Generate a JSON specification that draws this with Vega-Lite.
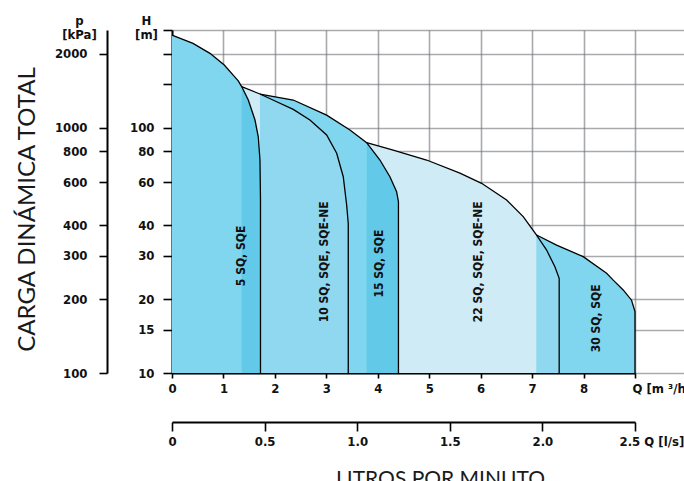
{
  "$schema": "https://vega.github.io/schema/vega-lite/v6.json",
  "width": 512,
  "height": 343,
  "autosize": {"type": "none"},
  "padding": {"left": 172, "top": 30, "right": 0, "bottom": 108},
  "background": "white",
  "title": {"text": "CARGA DINÁMICA TOTAL", "orient": "left", "anchor": "middle", "font": "Lato", "fontSize": 24, "fontWeight": "normal", "color": "#1a1a1a", "offset": 14, "dx": -8},
  "config": {
    "view": {"stroke": null},
    "axis": {
      "labelFont": "Liberation Sans Narrow, DejaVu Sans Condensed, Roboto Condensed, Roboto, sans-serif", "labelFontWeight": "bold", "labelFontSize": 13, "labelColor": "#111",
      "titleFont": "Liberation Sans Narrow, DejaVu Sans Condensed, Roboto Condensed, Roboto, sans-serif", "titleFontWeight": "bold", "titleFontSize": 13, "titleColor": "#111",
      "domainColor": "#000", "domainWidth": 2, "tickColor": "#000", "tickWidth": 1.6,
      "gridColor": "#6e7276", "gridOpacity": 0.6, "gridWidth": 1.6,
      "labelOverlap": false, "labelFlush": false, "zindex": 1
    }
  },
  "data": {"values": [
    {"s":"5","x":0,"h":238.4,"i":0},
    {"s":"5","x":0.408,"h":220.5,"i":1},
    {"s":"5","x":0.738,"h":200.8,"i":2},
    {"s":"5","x":1.016,"h":179.9,"i":3},
    {"s":"5","x":1.185,"h":164,"i":4},
    {"s":"5","x":1.288,"h":155,"i":5},
    {"s":"5","x":1.354,"h":147,"i":6},
    {"s":"5","x":1.483,"h":129.6,"i":7},
    {"s":"5","x":1.613,"h":107.4,"i":8},
    {"s":"5","x":1.677,"h":91.8,"i":9},
    {"s":"5","x":1.71,"h":73.8,"i":10},
    {"s":"5","x":1.72,"h":50.7,"i":11},
    {"s":"5","x":1.72,"h":10,"i":12},
    {"s":"10","x":1.354,"h":147,"i":0},
    {"s":"10","x":1.71,"h":137.1,"i":1},
    {"s":"10","x":2.035,"h":127.5,"i":2},
    {"s":"10","x":2.357,"h":118.7,"i":3},
    {"s":"10","x":2.681,"h":107.4,"i":4},
    {"s":"10","x":3.006,"h":93.3,"i":5},
    {"s":"10","x":3.201,"h":78.6,"i":6},
    {"s":"10","x":3.329,"h":63.1,"i":7},
    {"s":"10","x":3.395,"h":48.4,"i":8},
    {"s":"10","x":3.426,"h":40.7,"i":9},
    {"s":"10","x":3.426,"h":10,"i":10},
    {"s":"15","x":1.71,"h":137.1,"i":0},
    {"s":"15","x":2.357,"h":129.6,"i":1},
    {"s":"15","x":3.006,"h":112.5,"i":2},
    {"s":"15","x":3.459,"h":97.8,"i":3},
    {"s":"15","x":3.784,"h":86.8,"i":4},
    {"s":"15","x":4.042,"h":73.8,"i":5},
    {"s":"15","x":4.236,"h":63.1,"i":6},
    {"s":"15","x":4.366,"h":54.8,"i":7},
    {"s":"15","x":4.402,"h":49.9,"i":8},
    {"s":"15","x":4.402,"h":10,"i":9},
    {"s":"22","x":3.784,"h":86.8,"i":0},
    {"s":"22","x":4.3,"h":81.0,"i":1},
    {"s":"22","x":4.949,"h":73.8,"i":2},
    {"s":"22","x":5.597,"h":65.2,"i":3},
    {"s":"22","x":6.018,"h":59.3,"i":4},
    {"s":"22","x":6.504,"h":50.7,"i":5},
    {"s":"22","x":6.827,"h":43.4,"i":6},
    {"s":"22","x":7.087,"h":36.5,"i":7},
    {"s":"22","x":7.282,"h":31.7,"i":8},
    {"s":"22","x":7.443,"h":27.1,"i":9},
    {"s":"22","x":7.526,"h":24.3,"i":10},
    {"s":"22","x":7.526,"h":10,"i":11},
    {"s":"30","x":7.087,"h":36.5,"i":0},
    {"s":"30","x":7.476,"h":33.2,"i":1},
    {"s":"30","x":7.993,"h":29.8,"i":2},
    {"s":"30","x":8.448,"h":25.5,"i":3},
    {"s":"30","x":8.577,"h":23.9,"i":4},
    {"s":"30","x":8.77,"h":21.8,"i":5},
    {"s":"30","x":8.933,"h":19.8,"i":6},
    {"s":"30","x":9.0,"h":17.8,"i":7},
    {"s":"30","x":9.0,"h":10,"i":8}
  ]},
  "layer": [
    {
      "transform": [{"filter": "(datum.s == '10' || datum.s == '22') && datum.h > 10"}],
      "mark": {"type": "area", "color": "#cfebf6"},
      "encoding": {
        "x": {"field": "x", "type": "quantitative", "scale": {"domain": [0, 9.95], "nice": false, "zero": false}, "axis": null},
        "y": {"field": "h", "type": "quantitative", "stack": null, "scale": {"type": "log", "domain": [10, 250], "nice": false},
          "axis": {"orient": "left", "values": [10,15,20,30,40,60,80,100,150,200,250], "format": "d",
            "labelExpr": "datum.value > 100 ? '' : datum.label", "tickSize": 9, "labelPadding": 9, "grid": true,
            "title": ["H", "[m]"], "titleAngle": 0, "titleAlign": "center", "titleBaseline": "bottom", "titleX": -26, "titleY": -3, "titleLineHeight": 14}},
        "y2": {"datum": 10},
        "detail": {"field": "s"}
      }
    },
    {
      "transform": [{"filter": "(datum.s == '15' || datum.s == '30') && datum.h > 10"}],
      "mark": {"type": "area", "color": "#80d6ef"},
      "encoding": {
        "x": {"field": "x", "type": "quantitative", "scale": {"domain": [0, 9], "range": [0, 463], "nice": false, "zero": false},
          "axis": {"orient": "bottom", "values": [0,1,2,3,4,5,6,7,8,9], "grid": true, "tickSize": 5, "labelPadding": 4,
            "labelExpr": "datum.value == 9 ? 'Q [m ³/h]' : datum.label",
            "labelAlign": {"condition": {"test": "datum.value == 9", "value": "left"}, "value": "center"},
            "labelOffset": {"condition": {"test": "datum.value == 9", "value": -3}, "value": 0},
            "title": null}},
        "y": {"field": "h", "type": "quantitative", "stack": null, "axis": null},
        "y2": {"datum": 10},
        "detail": {"field": "s"}
      }
    },
    {
      "transform": [{"filter": "((datum.s == '10' && datum.x >= 1.71) || (datum.s == '22' && datum.x >= 7.087)) && datum.h > 10"}],
      "mark": {"type": "area", "color": "#8fd8f0"},
      "encoding": {
        "x": {"field": "x", "type": "quantitative", "scale": {"domain": [0, 9], "range": [0, 463], "nice": false, "zero": false}, "axis": null},
        "y": {"field": "h", "type": "quantitative", "stack": null, "axis": null},
        "y2": {"datum": 10},
        "detail": {"field": "s"}
      }
    },
    {
      "transform": [{"filter": "datum.s == '5' && datum.h > 10"}],
      "mark": {"type": "area", "color": "#80d6ef"},
      "encoding": {
        "x": {"field": "x", "type": "quantitative", "scale": {"domain": [0, 9], "range": [0, 463], "nice": false, "zero": false}, "axis": null},
        "y": {"field": "h", "type": "quantitative", "stack": null, "axis": null},
        "y2": {"datum": 10},
        "detail": {"field": "s"}
      }
    },
    {
      "transform": [{"filter": "((datum.s == '5' && datum.x >= 1.354) || (datum.s == '15' && datum.x >= 3.784)) && datum.h > 10"}],
      "mark": {"type": "area", "color": "#62cae8"},
      "encoding": {
        "x": {"field": "x", "type": "quantitative", "scale": {"domain": [0, 9], "range": [0, 463], "nice": false, "zero": false}, "axis": null},
        "y": {"field": "h", "type": "quantitative", "stack": null, "axis": null},
        "y2": {"datum": 10},
        "detail": {"field": "s"}
      }
    },
    {
      "mark": {"type": "line", "color": "#000", "strokeWidth": 1.3},
      "encoding": {
        "x": {"field": "x", "type": "quantitative", "scale": {"domain": [0, 9], "range": [0, 463], "nice": false, "zero": false},
          "axis": {"orient": "bottom", "offset": 49, "values": [0, 1.8, 3.6, 5.4, 7.2, 9], "grid": false, "tickSize": 9, "labelPadding": 4,
            "labelExpr": "datum.value == 0 ? '0' : datum.value == 9 ? '2.5  Q [l/s]' : format(datum.value / 3.6, '.1f')",
            "labelAlign": {"condition": {"test": "datum.value == 9", "value": "left"}, "value": "center"},
            "labelOffset": {"condition": {"test": "datum.value == 9", "value": -16}, "value": 0},
            "title": "LITROS POR MINUTO", "titleFont": "Lato", "titleFontWeight": "normal", "titleFontSize": 21, "titleColor": "#1a1a1a",
            "titleX": 268, "titleY": 46, "titleAlign": "center", "titleBaseline": "top"}},
        "y": {"field": "h", "type": "quantitative",
          "axis": {"orient": "left", "offset": 65, "values": [10,20,30,40,60,80,100,200], "grid": false, "tickSize": 8, "labelPadding": 12,
            "labelExpr": "format(datum.value * 10, 'd')",
            "title": ["p", "[kPa]"], "titleAngle": 0, "titleAlign": "center", "titleBaseline": "bottom", "titleX": -28, "titleY": -3, "titleLineHeight": 14}},
        "detail": {"field": "s"},
        "order": {"field": "i"}
      }
    },
    {
      "data": {"values": [
        {"t": "5 SQ, SQE", "x": 1.34, "h": 30.0},
        {"t": "10 SQ, SQE, SQE-NE", "x": 2.96, "h": 28.4},
        {"t": "15 SQ, SQE", "x": 4.03, "h": 27.9},
        {"t": "22 SQ, SQE, SQE-NE", "x": 5.94, "h": 28.4},
        {"t": "30 SQ, SQE", "x": 8.24, "h": 16.7}
      ]},
      "mark": {"type": "text", "angle": 270, "align": "center", "baseline": "middle", "font": "Liberation Sans Narrow, DejaVu Sans Condensed, Roboto Condensed, Roboto, sans-serif", "fontWeight": "bold", "fontSize": 12, "color": "#111"},
      "encoding": {
        "x": {"field": "x", "type": "quantitative", "scale": {"domain": [0, 9], "range": [0, 463], "nice": false, "zero": false}, "axis": null},
        "y": {"field": "h", "type": "quantitative", "axis": null},
        "text": {"field": "t"}
      }
    }
  ],
  "resolve": {"scale": {"x": "independent"}, "axis": {"x": "independent", "y": "independent"}}
}
